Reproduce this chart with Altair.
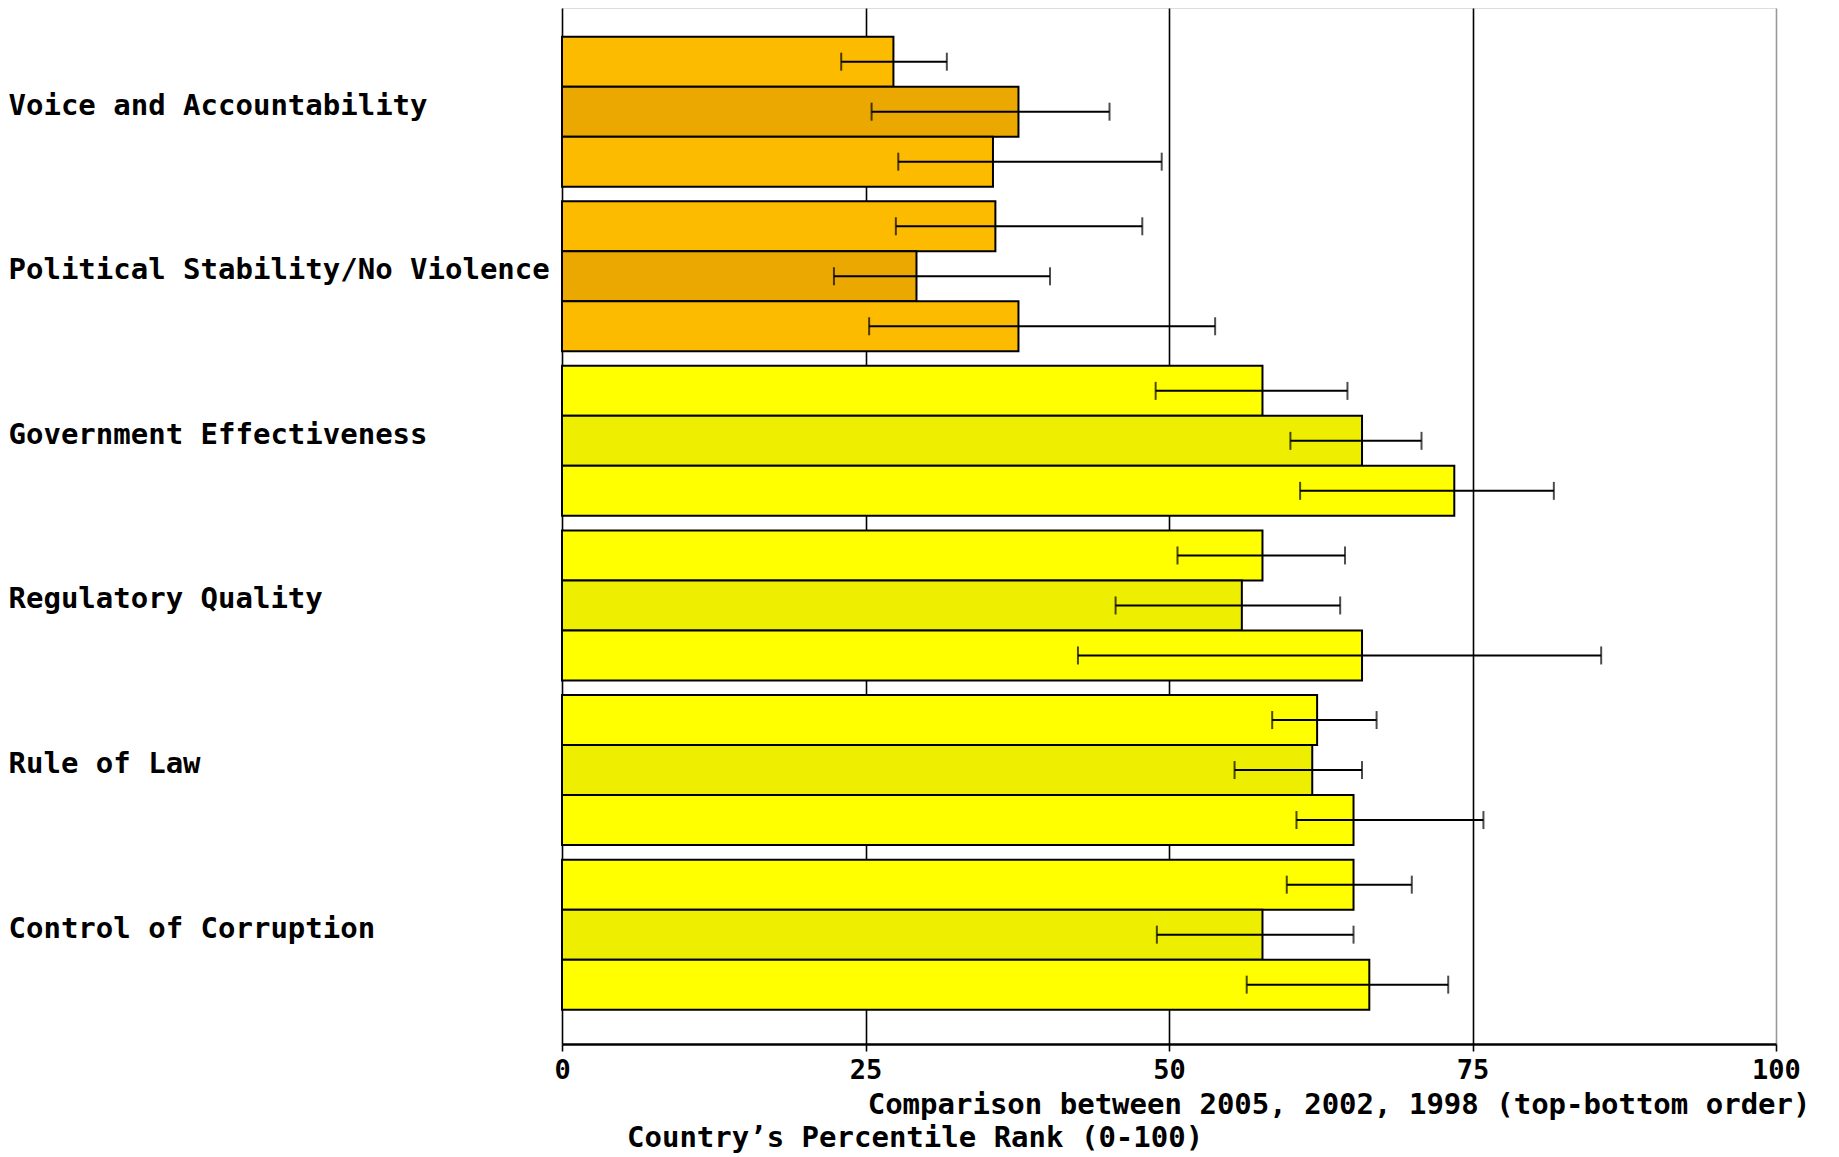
import altair as alt
import pandas as pd

categories = [
    "Voice and Accountability",
    "Political Stability/No Violence",
    "Government Effectiveness",
    "Regulatory Quality",
    "Rule of Law",
    "Control of Corruption",
]
years = ["2005", "2002", "1998"]

rank_2005 = [27.3, 35.7, 57.7, 57.7, 62.2, 65.2]
rank_2002 = [37.6, 29.2, 65.9, 56.0, 61.8, 57.7]
rank_1998 = [35.5, 37.6, 73.5, 65.9, 65.2, 66.5]

low_2005 = [23.0, 27.5, 48.9, 50.7, 58.5, 59.7]
high_2005 = [31.7, 47.8, 64.7, 64.5, 67.1, 70.0]
low_2002 = [25.5, 22.4, 60.0, 45.6, 55.4, 49.0]
high_2002 = [45.1, 40.2, 70.8, 64.1, 65.9, 65.2]
low_1998 = [27.7, 25.3, 60.8, 42.5, 60.5, 56.4]
high_1998 = [49.4, 53.8, 81.7, 85.6, 75.9, 73.0]

x_ticks = [0, 25, 50, 75, 100]
x_title = "Comparison between 2005, 2002, 1998 (top-bottom order)"
second_title = "Country\u2019s Percentile Rank (0-100)"

# style: colour band of each indicator, and the shade per year
category_band = {
    "Voice and Accountability": "orange",
    "Political Stability/No Violence": "orange",
    "Government Effectiveness": "yellow",
    "Regulatory Quality": "yellow",
    "Rule of Law": "yellow",
    "Control of Corruption": "yellow",
}
palette = {
    ("orange", "2005"): "#FDBB00",
    ("orange", "2002"): "#EBA800",
    ("orange", "1998"): "#FDBB00",
    ("yellow", "2005"): "#FFFF00",
    ("yellow", "2002"): "#EEEE00",
    ("yellow", "1998"): "#FFFF00",
}

series = {
    "2005": (rank_2005, low_2005, high_2005),
    "2002": (rank_2002, low_2002, high_2002),
    "1998": (rank_1998, low_1998, high_1998),
}
rows = []
for yr in years:
    vals, lows, highs = series[yr]
    for c, v, lo, hi in zip(categories, vals, lows, highs):
        rows.append({
            "category": c, "year": yr, "value": v, "low": lo, "high": hi,
            "fill": palette[(category_band[c], yr)],
        })
df = pd.DataFrame(rows)

FONT = "DejaVu Sans Mono"

y_enc = alt.Y(
    "category:N", sort=categories,
    scale=alt.Scale(paddingInner=0.0887, paddingOuter=0.1915, align=0.455),
    axis=alt.Axis(
        title=None, ticks=False, domain=False, grid=False,
        labelAlign="left", labelBaseline="middle", labelPadding=554,
        labelFont=FONT, labelFontSize=29, labelFontWeight="bold",
        labelColor="black", labelLimit=0, labelOffset=-6,
    ),
)
yoff = alt.YOffset("year:N", sort=years)

x_scale = alt.Scale(domain=[0, 100], nice=False, zero=True)

base = alt.Chart(df)

bars = base.mark_bar(stroke="black", strokeWidth=2).encode(
    x=alt.X(
        "value:Q", scale=x_scale,
        axis=alt.Axis(
            values=x_ticks, grid=True,
            gridColor={"condition": {"test": "datum.value == 100", "value": "#999999"}, "value": "black"},
            gridWidth=1.6, gridOpacity=1,
            domainColor="black", domainWidth=2.5,
            tickColor="black", tickSize=7, tickWidth=1.6,
            labelFont=FONT, labelFontSize=27, labelFontWeight="bold",
            labelColor="black", labelPadding=6, labelFlush=False,
            title=x_title, titleFont=FONT, titleFontSize=29, titleFontWeight="bold",
            titleColor="black", titleAlign="right", titleBaseline="middle",
            titleAnchor="end", titleX=1248, titleY=60, titleLimit=0,
        ),
    ),
    y=y_enc,
    yOffset=yoff,
    color=alt.Color("fill:N", scale=None),
)

rules = base.mark_rule(color="black", strokeWidth=2).encode(
    x=alt.X("low:Q", scale=x_scale),
    x2="high:Q",
    y=alt.Y("category:N", sort=categories),
    yOffset=yoff,
)
cap_lo = base.mark_tick(color="black", thickness=2, size=18).encode(
    x=alt.X("low:Q", scale=x_scale),
    y=alt.Y("category:N", sort=categories),
    yOffset=yoff,
)
cap_hi = base.mark_tick(color="black", thickness=2, size=18).encode(
    x=alt.X("high:Q", scale=x_scale),
    y=alt.Y("category:N", sort=categories),
    yOffset=yoff,
)

sub = alt.Chart(pd.DataFrame({"t": [second_title]})).mark_text(
    font=FONT, fontSize=29, fontWeight="bold", color="black",
    align="left", baseline="alphabetic",
).encode(text="t:N", x=alt.value(65), y=alt.value(1139))

chart = (
    alt.layer(bars, rules, cap_lo, cap_hi, sub)
    .properties(width=1214, height=1036, padding={"left": 0, "top": 0, "right": 0, "bottom": 0})
    .configure_view(stroke="#999999", strokeWidth=2)
    .configure(background="white")
)

chart.save("out.html", embed_options={"renderer": "svg", "actions": False})
